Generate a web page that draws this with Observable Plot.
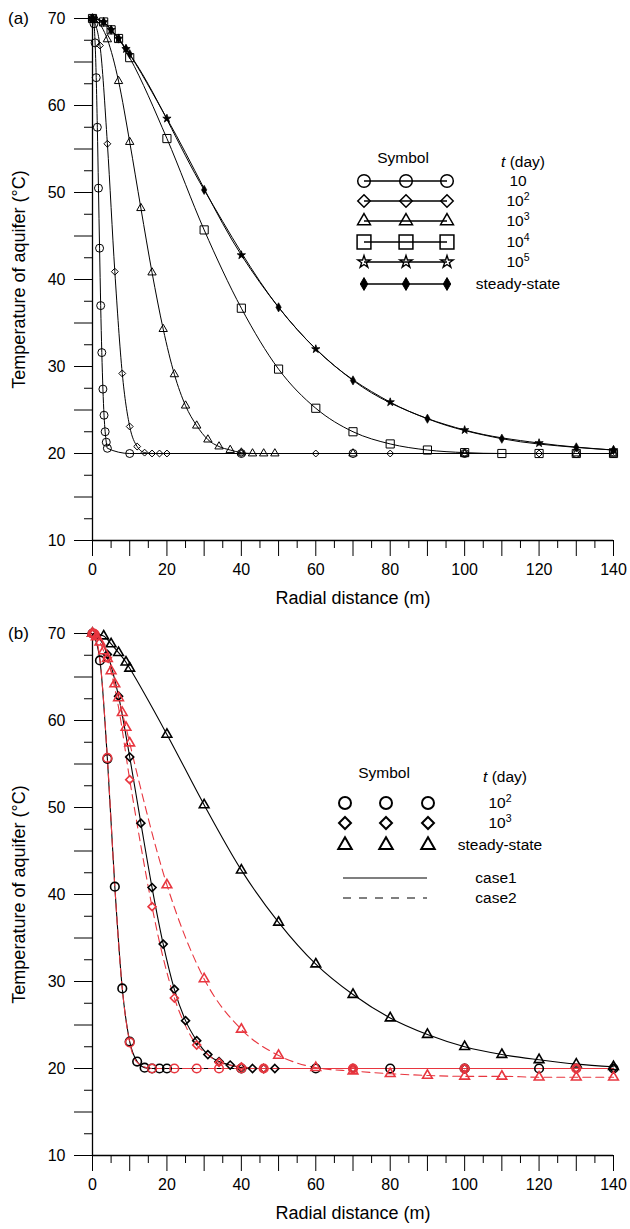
<!DOCTYPE html>
<html><head><meta charset="utf-8">
<script src="https://cdn.jsdelivr.net/npm/d3@7"></script>
<script src="https://cdn.jsdelivr.net/npm/@observablehq/plot@0.6"></script>
<style>
body{margin:0;background:#fff;}
#chart{width:630px;}
svg{display:block;}
</style></head><body><div id="chart"></div>
<script>
// ---------- axes ----------
const xDomain = [0, 140];
const yDomain = [10, 70];
const xTickLabels = [0, 20, 40, 60, 80, 100, 120, 140];
const yTickLabels = [10, 20, 30, 40, 50, 60, 70];
const xTitle = "Radial distance (m)";
const yTitle = "Temperature of aquifer (°C)";

// ---------- panel (a) ----------
const a_t10_x = [0.1,0.4,0.7,1.0,1.3,1.6,1.9,2.2,2.5,2.8,3.1,3.4,3.7,4.0,10,40,70,100,130,140];
const a_t10_y = [70,69.4,67.2,63.2,57.5,50.5,43.6,37.0,31.6,27.4,24.4,22.5,21.3,20.6,20,20,20,20,20,20];
const a_t100_x = [0,2,4,6,8,10,12,14,16,18,20,40,60,80,100,120,140];
const a_t100_y = [70,66.9,55.6,40.9,29.2,23.1,20.8,20.1,20,20,20,20,20,20,20,20,20];
const a_t1000_x = [0,1,4,7,10,13,16,19,22,25,28,31,34,37,40,43,46,49,70,100,130,140];
const a_t1000_y = [70,69.8,67.6,62.8,55.8,48.2,40.8,34.3,29.1,25.5,23.2,21.6,20.8,20.4,20.1,20,20,20,20,20,20,20];
const a_t1e4_x = [0,3,5,7,10,20,30,40,50,60,70,80,90,100,110,120,130,140];
const a_t1e4_y = [70,69.6,68.7,67.7,65.5,56.2,45.7,36.7,29.7,25.2,22.5,21.1,20.4,20.1,20,20,20,20];
const a_t1e5_x = [0,3,5,7,9,20,40,60,80,100,120,140];
const a_t1e5_y = [70,69.6,68.7,67.7,66.5,58.5,42.8,32.0,25.9,22.7,21.2,20.4];
const a_ss_x = [0,3,5,7,9,10,30,50,70,90,110,130,140];
const a_ss_y = [70,69.6,68.7,67.7,66.5,65.9,50.3,36.8,28.4,24.0,21.7,20.7,20.4];

// ---------- panel (b) ----------
// case1 (black, solid)
const b1_t100_x = [0,2,4,6,8,10,12,14,16,18,20,40,60,80,100,120,140];
const b1_t100_y = [70,66.9,55.6,40.9,29.2,23.1,20.8,20.1,20,20,20,20,20,20,20,20,20];
const b1_t1000_x = [0,1,4,7,10,13,16,19,22,25,28,31,34,37,40,43,46,49,70,100,130,140];
const b1_t1000_y = [70,69.8,67.6,62.8,55.8,48.2,40.8,34.3,29.1,25.5,23.2,21.6,20.8,20.4,20.1,20,20,20,20,20,20,20];
const b1_ss_x = [0,3,5,7,9,10,20,30,40,50,60,70,80,90,100,110,120,130,140];
const b1_ss_y = [70,69.7,68.8,67.8,66.7,66.0,58.4,50.3,42.8,36.8,32.0,28.5,25.8,23.9,22.5,21.6,21.0,20.5,20.2];
// case2 (red, dashed): symbol points and extra points
const b2_t100_x = [0,0.3,0.6,4,10,16,22,28,34,40,46,70,100,130];
const b2_t100_y = [70,70,69.9,55.7,23.0,20.0,20,20,20,20,20,20,20,20];
const b2_t100_lx = [2,6,8,12,140];
const b2_t100_ly = [67.0,40.9,29.2,20.7,20];
const b2_t1000_x = [0,4,10,16,22,28,34,40,46,70,100,130];
const b2_t1000_y = [70,67.2,53.2,38.6,28.1,22.7,20.7,20.2,20.0,20,20,20];
const b2_t1000_lx = [2,7,13,19,25,31,140];
const b2_t1000_ly = [69.5,61.5,45.6,32.7,24.9,21.6,20];
const b2_ss_x = [0,1,2,3,4,5,6,7,8,9,10,20,30,40,50,60,70,80,90,100,110,120,130,140];
const b2_ss_y = [70,69.6,69.0,68.0,67.1,65.7,64.2,62.6,60.9,59.2,57.4,41.1,30.3,24.5,21.5,20.1,19.7,19.4,19.2,19.1,19.1,19.0,19.0,19.0];

const RED = "#e8363f";
const FONT = "'Liberation Sans', Arial, Helvetica, sans-serif";

const rows = (xs, ys) => xs.map((x, i) => ({x, y: ys[i]}));
const merged = (xs, ys, lx, ly) => rows(xs.concat(lx), ys.concat(ly)).sort((a, b) => a.x - b.x);

const xMajor = d3.range(xDomain[0], xDomain[1] + 1, 10);
const xMinor = d3.range(xDomain[0] + 5, xDomain[1], 10);
const yMajor = d3.range(yDomain[0], yDomain[1] + 1, 5);
const yMinor = d3.range(yDomain[0] + 2.5, yDomain[1], 5);

function panel(tag, height, series) {
  const marks = [
    Plot.ruleX([xDomain[0]], {y1: yDomain[0], y2: yDomain[1], strokeWidth: 1.3}),
    Plot.ruleY([yDomain[0]], {x1: xDomain[0], x2: xDomain[1], strokeWidth: 1.3}),
    Plot.axisX({ticks: xMajor, tickSize: 16, tickPadding: 7, tickFormat: d => xTickLabels.includes(d) ? d : "", label: null}),
    Plot.axisX({ticks: xMinor, tickSize: 8, tickFormat: () => "", label: null}),
    Plot.axisY({ticks: yMajor, tickSize: 18, tickPadding: 9, tickFormat: d => yTickLabels.includes(d) ? d : "", label: null}),
    Plot.axisY({ticks: yMinor, tickSize: 8, tickFormat: () => "", label: null}),
    Plot.text([xTitle], {text: d => d, frameAnchor: "bottom", dy: 58, fontSize: 18, textAnchor: "middle", lineAnchor: "middle"}),
    Plot.text([yTitle], {text: d => d, frameAnchor: "left", dx: -73, rotate: -90, fontSize: 18, textAnchor: "middle", lineAnchor: "middle"}),
    Plot.text([tag], {text: d => d, frameAnchor: "top-left", dx: -74, fontSize: 17, textAnchor: "middle", lineAnchor: "middle"})
  ];
  for (const s of series) {
    marks.push(Plot.line(s.line, {x: "x", y: "y", curve: "monotone-x", stroke: s.color, strokeWidth: s.lw, strokeDasharray: s.dash}));
  }
  for (const s of series) {
    marks.push(Plot.dot(s.pts, {x: "x", y: "y", symbol: s.symbol, r: s.r, stroke: s.color, fill: s.fill, strokeWidth: s.sw}));
  }
  return Plot.plot({
    width: 630, height,
    marginLeft: 92, marginRight: 17, marginTop: 18, marginBottom: height - 18 - 522,
    x: {domain: xDomain}, y: {domain: yDomain},
    style: {fontFamily: FONT, fontSize: "16px", color: "#000", background: "#fff"},
    marks
  });
}

const symType = {circle: d3.symbolCircle, diamond2: d3.symbolDiamond2, diamond: d3.symbolDiamond, triangle: d3.symbolTriangle, square: d3.symbolSquare, star: d3.symbolStar};
function sym(g, type, r, x, y, stroke, fill, sw) {
  g.append("path").attr("d", d3.symbol(symType[type], Math.PI * r * r)()).attr("transform", `translate(${x},${y})`)
    .attr("stroke", stroke).attr("fill", fill).attr("stroke-width", sw);
}
function label(g, x, y, base, sup, size) {
  const t = g.append("text").attr("x", x).attr("y", y).attr("dy", "0.35em").attr("text-anchor", "middle")
    .attr("font-size", size).attr("font-family", FONT);
  t.append("tspan").text(base);
  if (sup) t.append("tspan").attr("dy", "-0.6em").attr("font-size", size * 0.68).text(sup);
  return t;
}
function header(g, x1, y1, x2, y2, size) {
  g.append("text").attr("x", x1).attr("y", y1).attr("dy", "0.35em").attr("text-anchor", "middle")
    .attr("font-size", size).attr("font-family", FONT).text("Symbol");
  const t = g.append("text").attr("x", x2).attr("y", y2).attr("dy", "0.35em").attr("text-anchor", "middle")
    .attr("font-size", size).attr("font-family", FONT);
  t.append("tspan").attr("font-style", "italic").text("t");
  t.append("tspan").text(" (day)");
}

// ---------- build panel (a) ----------
const seriesA = [
  {pts: rows(a_t10_x, a_t10_y), symbol: "circle", r: 4, fill: "none", sw: 1},
  {pts: rows(a_t100_x, a_t100_y), symbol: "diamond2", r: 3.1, fill: "none", sw: 1},
  {pts: rows(a_t1000_x, a_t1000_y), symbol: "triangle", r: 3.1, fill: "none", sw: 1},
  {pts: rows(a_t1e4_x, a_t1e4_y), symbol: "square", r: 4.6, fill: "none", sw: 1},
  {pts: rows(a_t1e5_x, a_t1e5_y), symbol: "star", r: 2.6, fill: "#000", sw: 0.8},
  {pts: rows(a_ss_x, a_ss_y), symbol: "diamond", r: 2.8, fill: "#000", sw: 0.6}
].map(s => ({...s, line: s.pts, color: "#000", lw: 1, dash: null}));

const svgA = panel("(a)", 615, seriesA);
{
  const g = d3.select(svgA).append("g");
  header(g, 403, 158, 523, 162, 15.5);
  const symX = [364, 406, 447];
  const leg = [
    ["circle", 6.3, "#fff", 1.5, "10", null],
    ["diamond2", 5.6, "#fff", 1.5, "10", "2"],
    ["triangle", 4.8, "#fff", 1.5, "10", "3"],
    ["square", 7.8, "#fff", 1.5, "10", "4"],
    ["star", 3.9, "#fff", 1.4, "10", "5"],
    ["diamond", 3.9, "#000", 1, "steady-state", null]
  ];
  const rowY = [181, 201, 221, 242, 262, 284];
  leg.forEach((d, i) => {
    g.append("line").attr("x1", symX[0]).attr("x2", symX[2]).attr("y1", rowY[i]).attr("y2", rowY[i]).attr("stroke", "#000").attr("stroke-width", 1.4);
    symX.forEach(x => sym(g, d[0], d[1], x, rowY[i], "#000", d[0] === "diamond" ? "#000" : "none", d[3]));
    label(g, 518, rowY[i], d[4], d[5], 15.5);
  });
}
document.getElementById("chart").append(svgA);

// ---------- build panel (b) ----------
const seriesB = [
  {pts: rows(b1_t100_x, b1_t100_y), symbol: "circle", r: 4.3, color: "#000", dash: null},
  {pts: rows(b1_t1000_x, b1_t1000_y), symbol: "diamond2", r: 3.6, color: "#000", dash: null},
  {pts: rows(b1_ss_x, b1_ss_y), symbol: "triangle", r: 3.6, color: "#000", dash: null},
  {pts: rows(b2_t100_x, b2_t100_y), line: merged(b2_t100_x, b2_t100_y, b2_t100_lx, b2_t100_ly), symbol: "circle", r: 4.3, color: RED, dash: "8,5"},
  {pts: rows(b2_t1000_x, b2_t1000_y), line: merged(b2_t1000_x, b2_t1000_y, b2_t1000_lx, b2_t1000_ly), symbol: "diamond2", r: 3.6, color: RED, dash: "8,5"},
  {pts: rows(b2_ss_x, b2_ss_y), symbol: "triangle", r: 3.6, color: RED, dash: "8,5"}
].map(s => ({...s, line: s.line || s.pts, fill: "none", sw: 1.6, lw: 1.1}));

const svgB = panel("(b)", 614, seriesB);
{
  const g = d3.select(svgB).append("g");
  header(g, 384, 158, 505, 162, 15.5);
  const symX = [345, 386, 428];
  const leg = [
    ["circle", 6.0, "10", "2"],
    ["diamond2", 5.4, "10", "3"],
    ["triangle", 5.0, "steady-state", null]
  ];
  const rowY = [188, 208, 230];
  leg.forEach((d, i) => {
    symX.forEach(x => sym(g, d[0], d[1], x, rowY[i], "#000", "none", 2));
    label(g, 500, rowY[i], d[2], d[3], 15.5);
  });
  g.append("line").attr("x1", 343).attr("x2", 427).attr("y1", 263).attr("y2", 263).attr("stroke", "#000").attr("stroke-width", 1.2);
  g.append("line").attr("x1", 343).attr("x2", 427).attr("y1", 283).attr("y2", 283).attr("stroke", "#000").attr("stroke-width", 1.2).attr("stroke-dasharray", "8,8");
  label(g, 496, 263, "case1", null, 15.5);
  label(g, 496, 283, "case2", null, 15.5);
}
document.getElementById("chart").append(svgB);
</script></body></html>
